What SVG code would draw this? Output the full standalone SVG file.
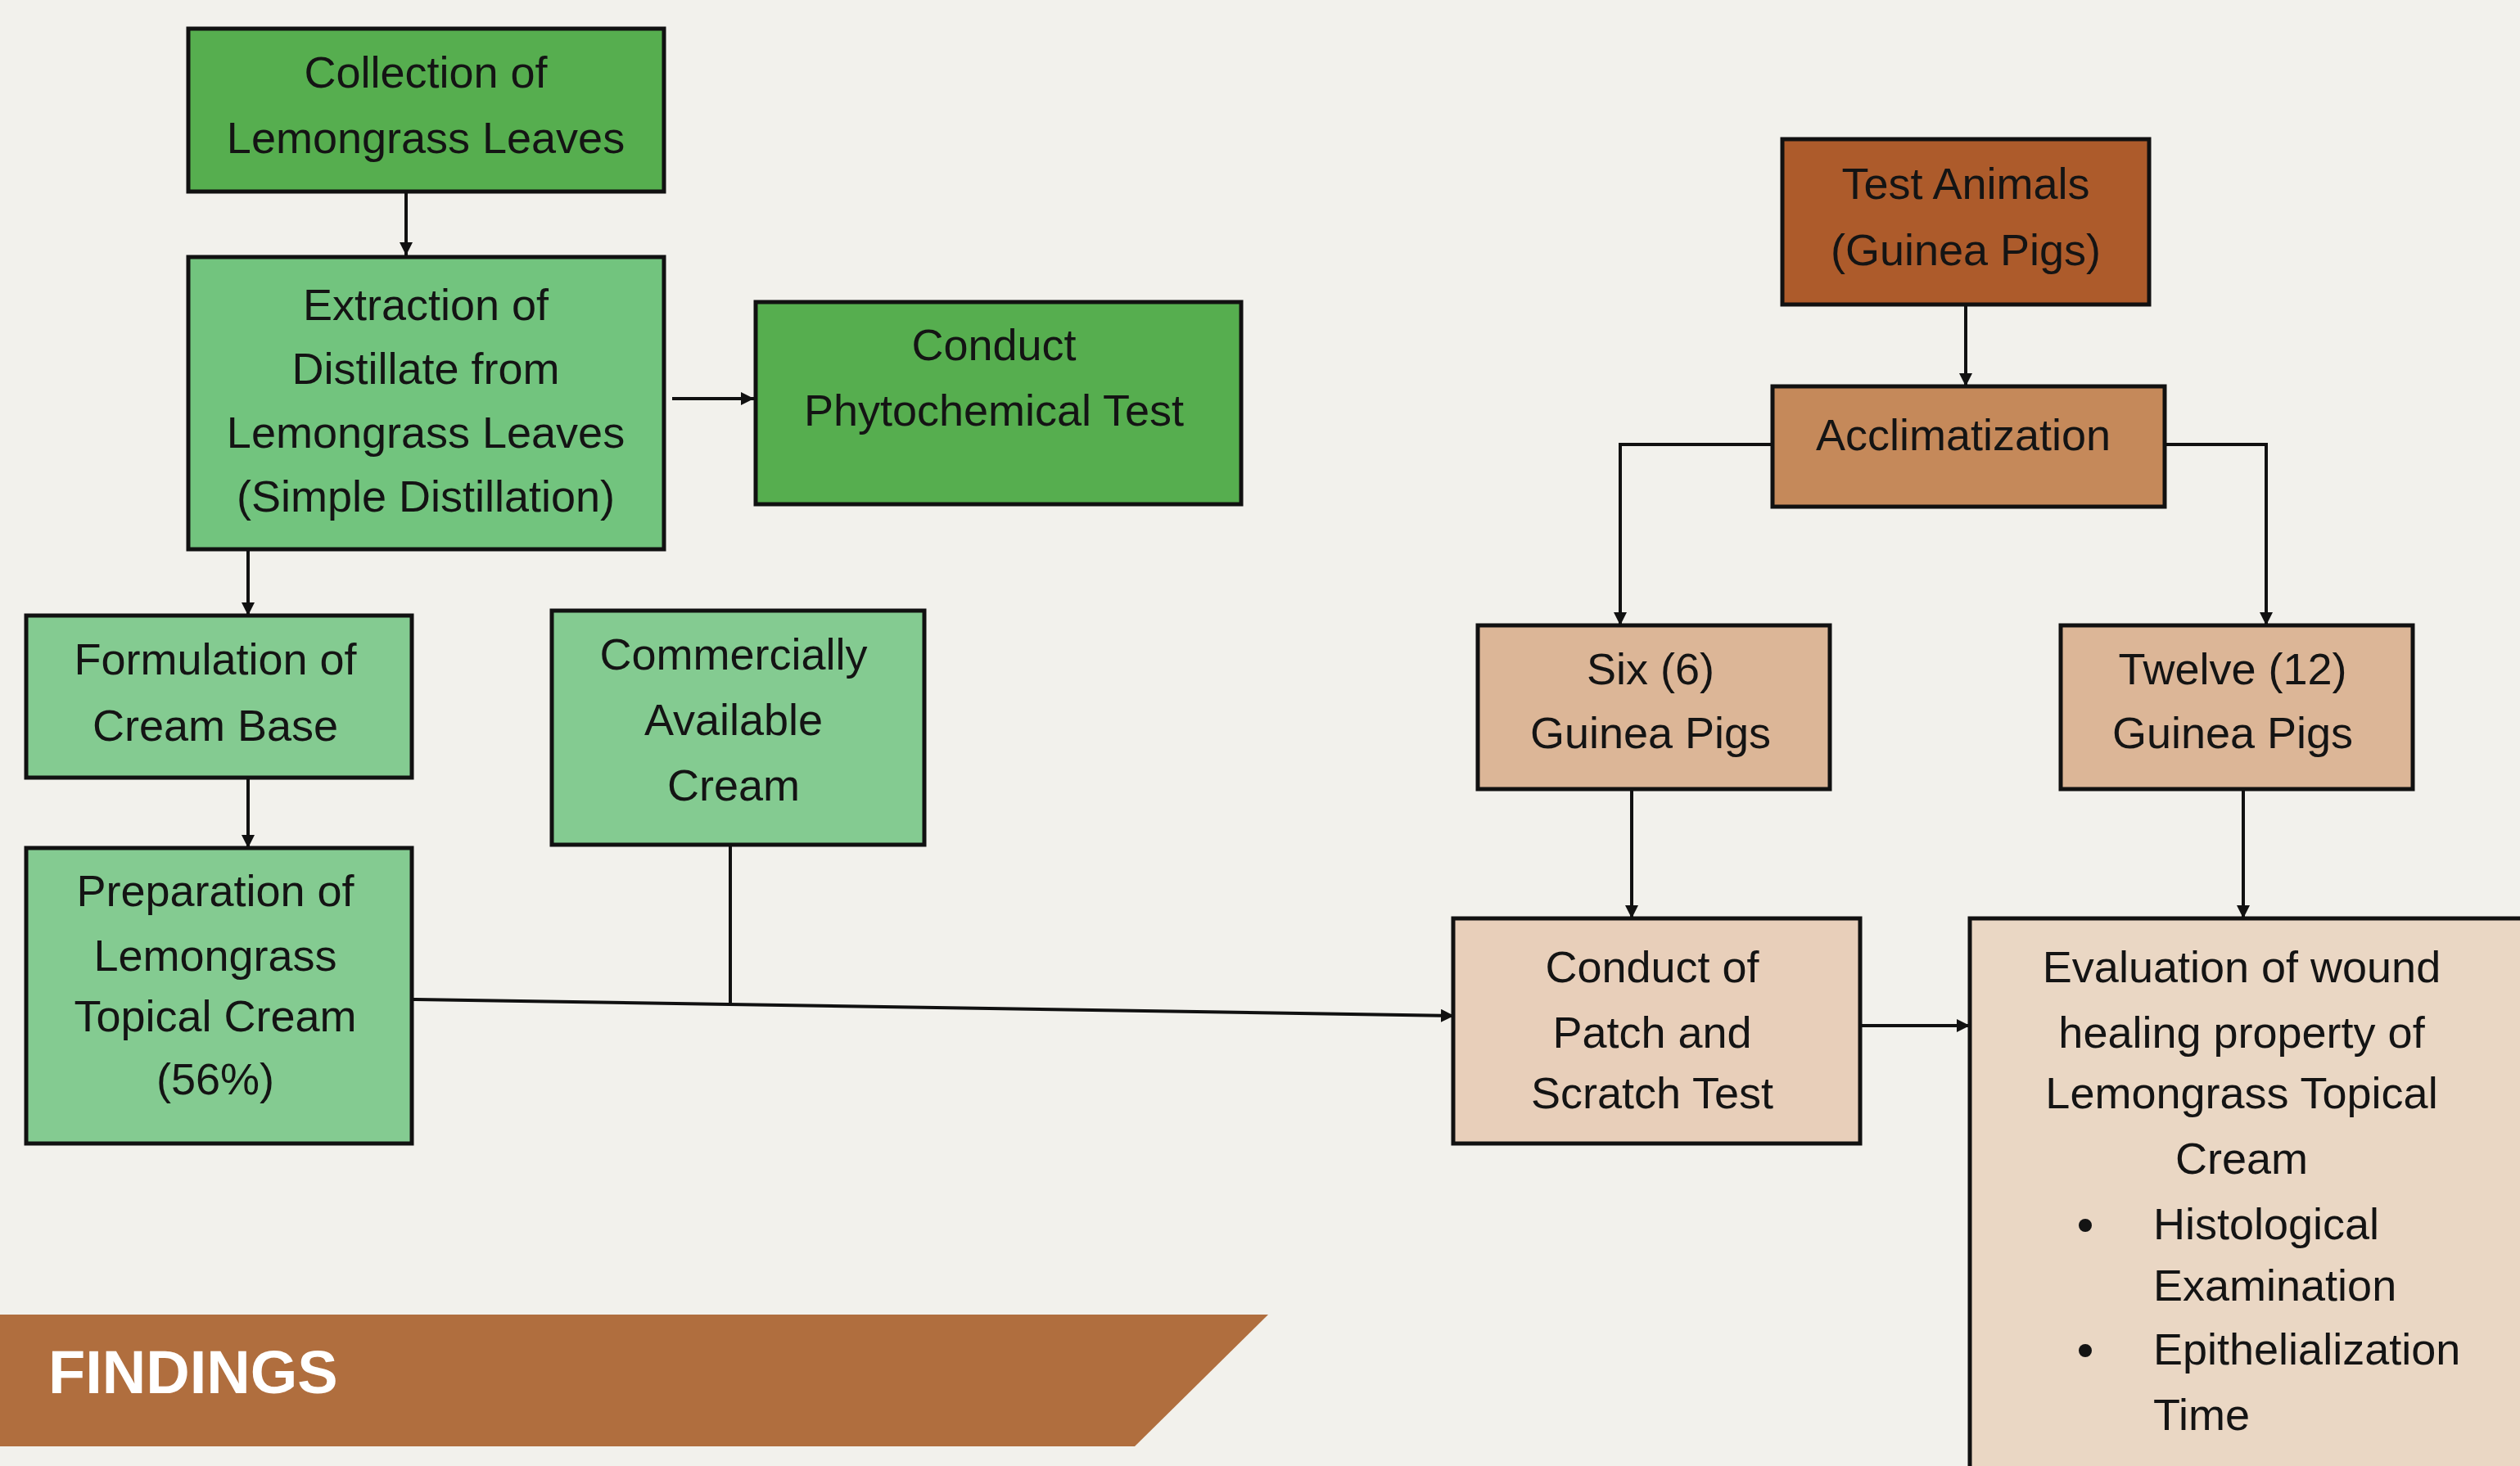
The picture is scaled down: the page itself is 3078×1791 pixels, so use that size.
<svg xmlns="http://www.w3.org/2000/svg" width="3078" height="1791" viewBox="0 0 3078 1791">
<style>
.box{stroke:#111;stroke-width:5}
.t{font-family:"Liberation Sans",Arial,sans-serif;font-size:54px;fill:#141414;text-anchor:middle}
.tl{font-family:"Liberation Sans",Arial,sans-serif;font-size:54px;fill:#141414}
.c{fill:none;stroke:#111;stroke-width:4}
</style>
<defs>
<marker id="ah" viewBox="0 0 10 10" refX="10" refY="5" markerWidth="4" markerHeight="4" markerUnits="strokeWidth" orient="auto">
<path d="M0 0L10 5L0 10Z" fill="#111"/>
</marker>
</defs>
<rect width="3078" height="1791" fill="#F2F1EC"/>

<g id="connectors">
<path class="c" d="M496 234V312" marker-end="url(#ah)"/>
<path class="c" d="M821 487H921" marker-end="url(#ah)"/>
<path class="c" d="M303 671V752" marker-end="url(#ah)"/>
<path class="c" d="M303 950V1036" marker-end="url(#ah)"/>
<path class="c" d="M892 1032V1228"/>
<path class="c" d="M503 1221L1776 1241" stroke="#333" marker-end="url(#ah)"/>
<path class="c" d="M2401 372V472" marker-end="url(#ah)"/>
<path class="c" d="M2165 543H1979V764" marker-end="url(#ah)"/>
<path class="c" d="M2644 543H2768V764" marker-end="url(#ah)"/>
<path class="c" d="M1993 964V1122" marker-end="url(#ah)"/>
<path class="c" d="M2740 964V1122" marker-end="url(#ah)"/>
<path class="c" d="M2272 1253H2406" marker-end="url(#ah)"/>
</g>

<g id="collection">
<rect class="box" x="230" y="35" width="581" height="199" fill="#56AE4F"/>
<text class="t" x="520" y="107">Collection of</text>
<text class="t" x="520" y="187">Lemongrass Leaves</text>
</g>

<g id="extraction">
<rect class="box" x="230" y="314" width="581" height="357" fill="#72C47E"/>
<text class="t" x="520" y="391">Extraction of</text>
<text class="t" x="520" y="469">Distillate from</text>
<text class="t" x="520" y="547">Lemongrass Leaves</text>
<text class="t" x="520" y="625">(Simple Distillation)</text>
</g>

<g id="phytochemical">
<rect class="box" x="923" y="369" width="593" height="247" fill="#56AE4F"/>
<text class="t" x="1214" y="440">Conduct</text>
<text class="t" x="1214" y="520">Phytochemical Test</text>
</g>

<g id="formulation">
<rect class="box" x="32" y="752" width="471" height="198" fill="#84CB91"/>
<text class="t" x="263" y="824">Formulation of</text>
<text class="t" x="263" y="905">Cream Base</text>
</g>

<g id="commercial">
<rect class="box" x="674" y="746" width="455" height="286" fill="#84CB91"/>
<text class="t" x="896" y="818">Commercially</text>
<text class="t" x="896" y="898">Available</text>
<text class="t" x="896" y="978">Cream</text>
</g>

<g id="preparation">
<rect class="box" x="32" y="1036" width="471" height="361" fill="#84CB91"/>
<text class="t" x="263" y="1107">Preparation of</text>
<text class="t" x="263" y="1186">Lemongrass</text>
<text class="t" x="263" y="1260">Topical Cream</text>
<text class="t" x="263" y="1337">(56%)</text>
</g>

<g id="test-animals">
<rect class="box" x="2177" y="170" width="448" height="202" fill="#AD5B2B"/>
<text class="t" x="2401" y="243">Test Animals</text>
<text class="t" x="2401" y="324">(Guinea Pigs)</text>
</g>

<g id="acclimatization">
<rect class="box" x="2165" y="472" width="479" height="147" fill="#C5895A"/>
<text class="t" x="2398" y="550">Acclimatization</text>
</g>

<g id="six">
<rect class="box" x="1805" y="764" width="430" height="200" fill="#DCB697"/>
<text class="t" x="2016" y="836">Six (6)</text>
<text class="t" x="2016" y="914">Guinea Pigs</text>
</g>

<g id="twelve">
<rect class="box" x="2517" y="764" width="430" height="200" fill="#DCB697"/>
<text class="t" x="2727" y="836">Twelve (12)</text>
<text class="t" x="2727" y="914">Guinea Pigs</text>
</g>

<g id="patch">
<rect class="box" x="1775" y="1122" width="497" height="275" fill="#E8CFBA"/>
<text class="t" x="2018" y="1200">Conduct of</text>
<text class="t" x="2018" y="1280">Patch and</text>
<text class="t" x="2018" y="1354">Scratch Test</text>
</g>

<g id="evaluation">
<rect class="box" x="2406" y="1122" width="720" height="720" fill="#EAD7C4"/>
<text class="t" x="2738" y="1200">Evaluation of wound</text>
<text class="t" x="2738" y="1280">healing property of</text>
<text class="t" x="2738" y="1354">Lemongrass Topical</text>
<text class="t" x="2738" y="1434">Cream</text>
<circle cx="2547" cy="1497" r="8" fill="#141414"/>
<text class="tl" x="2630" y="1514">Histological</text>
<text class="tl" x="2630" y="1589">Examination</text>
<circle cx="2547" cy="1650" r="8" fill="#141414"/>
<text class="tl" x="2630" y="1667">Epithelialization</text>
<text class="tl" x="2630" y="1747">Time</text>
</g>

<g id="findings-banner">
<path d="M0 1606H1549L1386 1767H0Z" fill="#B06E3E"/>
<text x="59" y="1702" font-family="'Liberation Sans',Arial,sans-serif" font-weight="bold" font-size="74" fill="#FFFFFF">FINDINGS</text>
</g>
</svg>
